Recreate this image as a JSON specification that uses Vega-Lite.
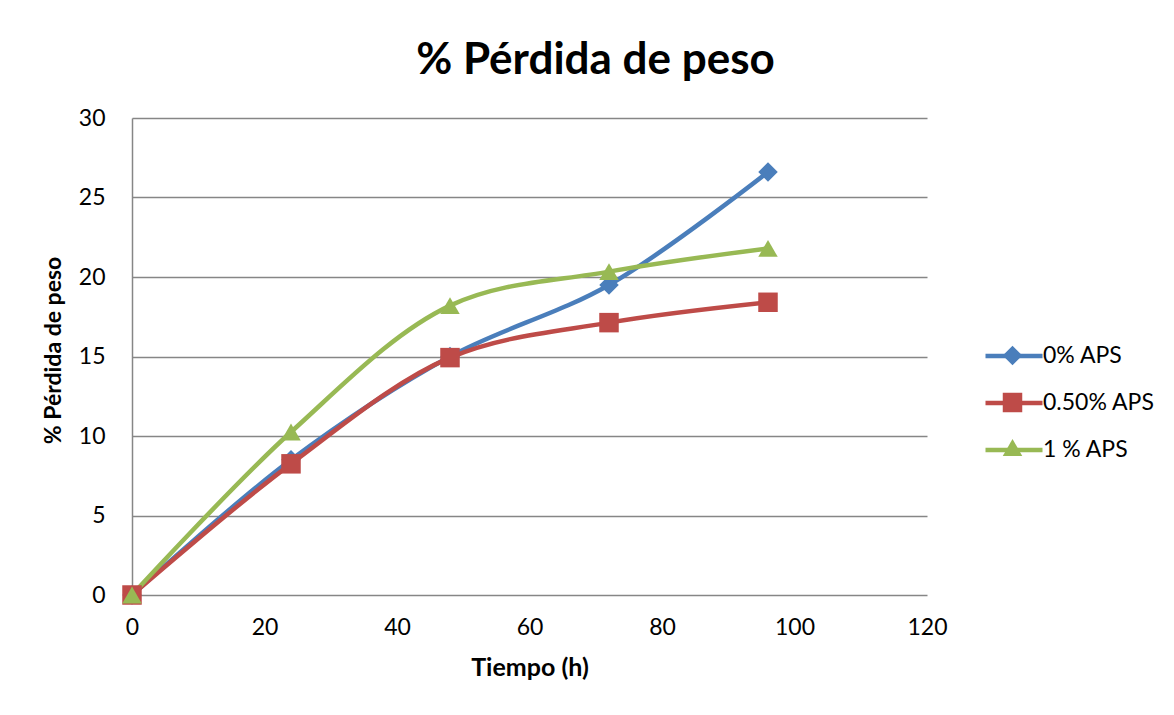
{
  "$schema": "https://vega.github.io/schema/vega-lite/v6.json",
  "autosize": {"type": "none"},
  "padding": {"left": 132, "top": 118, "right": 247, "bottom": 120},
  "width": 795,
  "height": 477,
  "background": "white",
  "title": {
    "text": "% Pérdida de peso",
    "font": "Lato",
    "fontSize": 44,
    "fontWeight": "bold",
    "color": "#000000",
    "anchor": "middle",
    "dx": 66,
    "offset": 24
  },
  "config": {
    "font": "Lato",
    "view": {"stroke": null},
    "axis": {
      "labelFont": "Lato",
      "labelFontSize": 23,
      "labelColor": "#000000",
      "labelFlush": false,
      "titleFont": "Lato",
      "titleFontWeight": "bold",
      "titleColor": "#000000",
      "domainColor": "#868686",
      "domainWidth": 1.5,
      "ticks": false
    },
    "legend": {"padding": 0}
  },
  "data": {
    "values": [
      {"t": 0, "v": 0, "serie": "0% APS"},
      {"t": 24, "v": 8.5, "serie": "0% APS"},
      {"t": 48, "v": 15.0, "serie": "0% APS"},
      {"t": 72, "v": 19.5, "serie": "0% APS"},
      {"t": 96, "v": 26.6, "serie": "0% APS"},
      {"t": 0, "v": 0, "serie": "0.50% APS"},
      {"t": 24, "v": 8.25, "serie": "0.50% APS"},
      {"t": 48, "v": 14.93, "serie": "0.50% APS"},
      {"t": 72, "v": 17.13, "serie": "0.50% APS"},
      {"t": 96, "v": 18.41, "serie": "0.50% APS"},
      {"t": 0, "v": 0, "serie": "1 % APS"},
      {"t": 24, "v": 10.25, "serie": "1 % APS"},
      {"t": 48, "v": 18.2, "serie": "1 % APS"},
      {"t": 72, "v": 20.34, "serie": "1 % APS"},
      {"t": 96, "v": 21.8, "serie": "1 % APS"}
    ]
  },
  "encoding": {
    "x": {
      "field": "t",
      "type": "quantitative",
      "title": "Tiempo (h)",
      "scale": {"domain": [0, 120], "nice": false},
      "axis": {
        "values": [0, 20, 40, 60, 80, 100, 120],
        "grid": false,
        "domain": false,
        "labelPadding": 21,
        "titleFontSize": 25,
        "titlePadding": 16
      }
    },
    "y": {
      "field": "v",
      "type": "quantitative",
      "title": "% Pérdida de peso",
      "scale": {"domain": [0, 30], "nice": false},
      "axis": {
        "values": [0, 5, 10, 15, 20, 25, 30],
        "grid": true,
        "gridColor": "#868686",
        "gridWidth": 1.5,
        "labelPadding": 27,
        "titleFontSize": 23,
        "titlePadding": 13,
        "titleY": 232
      }
    }
  },
  "layer": [
    {
      "mark": {"type": "line", "interpolate": "catmull-rom", "strokeWidth": 4.5, "strokeCap": "round"},
      "encoding": {
        "stroke": {
          "field": "serie",
          "type": "nominal",
          "scale": {"range": ["#4A7EBB", "#BE4B48", "#98B954"]},
          "legend": {
            "orient": "none",
            "legendX": 851,
            "legendY": 207,
            "title": null,
            "symbolType": "stroke",
            "symbolSize": 3249,
            "symbolStrokeWidth": 4.5,
            "labelFont": "Lato",
            "labelFontSize": 23,
            "labelColor": "#000000",
            "labelOffset": -2,
            "rowPadding": 4
          }
        }
      }
    },
    {
      "transform": [{"calculate": "datum.serie", "as": "marcador"}],
      "mark": {"type": "point", "filled": true, "opacity": 1, "size": 380},
      "encoding": {
        "fill": {
          "field": "marcador",
          "type": "nominal",
          "scale": {"range": ["#4A7EBB", "#BE4B48", "#98B954"]},
          "legend": {
            "orient": "none",
            "legendX": 869,
            "legendY": 226,
            "title": null,
            "symbolSize": 380,
            "labelExpr": "''",
            "labelFontSize": 23,
            "labelOffset": 0,
            "rowPadding": 20
          }
        },
        "shape": {
          "field": "marcador",
          "type": "nominal",
          "scale": {"range": ["diamond", "square", "triangle-up"]}
        }
      }
    }
  ]
}
